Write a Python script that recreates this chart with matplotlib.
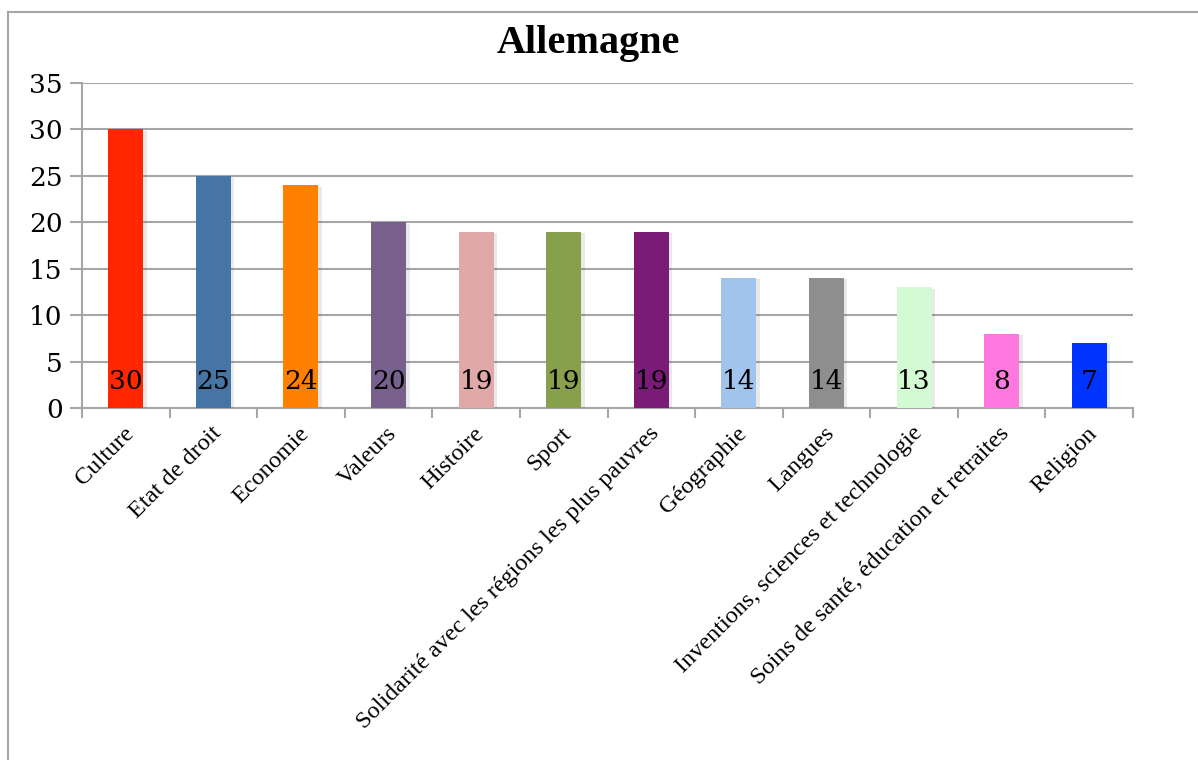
import matplotlib
matplotlib.use("Agg")
import matplotlib.pyplot as plt
import matplotlib.patheffects as pe
from matplotlib.lines import Line2D
import numpy as np

categories = [
    "Culture", "Etat de droit", "Economie", "Valeurs", "Histoire", "Sport",
    "Solidarité avec les régions les plus pauvres", "Géographie", "Langues",
    "Inventions, sciences et technologie",
    "Soins de santé, éducation et retraites", "Religion",
]
values = [30, 25, 24, 20, 19, 19, 19, 14, 14, 13, 8, 7]
colors = [
    "#FF2600", "#4674A4", "#FF7F00", "#77608C", "#E0A8A6", "#88A04C",
    "#7C1A78", "#A0C4EC", "#8E8E8E", "#D4FAD4", "#FF78E0", "#0033FF",
]
yticks = [0, 5, 10, 15, 20, 25, 30, 35]
title = "Allemagne"

W, H = 1198, 760
fig = plt.figure(figsize=(W / 100, H / 100), dpi=100)
fig.patch.set_facecolor("white")

# outer chart frame (left and top edges visible)
frame_col = "#A6A6A6"
fig.add_artist(Line2D([8 / W, 8 / W], [0, 1 - 12 / H], transform=fig.transFigure,
                      color=frame_col, lw=1.5))
fig.add_artist(Line2D([8 / W, 1], [1 - 12 / H, 1 - 12 / H], transform=fig.transFigure,
                      color=frame_col, lw=1.5))

left, right, bottom, top = 82 / W, 1133 / W, 1 - 408 / H, 1 - 83 / H
ax = fig.add_axes([left, bottom, right - left, top - bottom])

x = np.arange(len(categories))
bars = ax.bar(x, values, width=0.4, color=colors, zorder=3)
for b in bars:
    b.set_path_effects([pe.SimplePatchShadow(offset=(2.5, -1), alpha=0.13,
                                             shadow_rgbFace="#555555"),
                        pe.Normal()])

serif_num = ["DejaVu Serif"]
for xi, v in zip(x, values):
    ax.text(xi, 2.9, str(v), ha="center", va="center", fontsize=19,
            family=serif_num, color="black", zorder=4)

ax.set_xlim(-0.5, len(categories) - 0.5)
ax.set_ylim(0, 35)
ax.set_yticks(yticks)
ax.set_yticklabels([str(t) for t in yticks], family=serif_num, fontsize=19)
ax.yaxis.grid(True, color="#A6A6A6", lw=1.5, zorder=0)
ax.tick_params(axis="y", length=9, width=1.5, color="#A6A6A6", pad=5)

# category boundary ticks on x axis
ax.set_xticks(np.arange(-0.5, len(categories), 1.0))
ax.set_xticklabels([])
ax.tick_params(axis="x", length=7, width=1.5, color="#A6A6A6")
for xi, lab in zip(x, categories):
    ax.text(xi - 0.03, -1.6, lab, rotation=45, ha="right", va="top",
            rotation_mode="anchor", fontsize=17.5, family=["Liberation Serif"])

for s in ["top", "right"]:
    ax.spines[s].set_visible(False)
for s in ["left", "bottom"]:
    ax.spines[s].set_color("#A6A6A6")
    ax.spines[s].set_linewidth(1.5)

fig.text(588 / W, 1 - 44 / H, title, ha="center", va="center", fontsize=29,
         fontweight="bold", family=["Liberation Serif"])

fig.savefig("out.png", dpi=100, facecolor="white")
